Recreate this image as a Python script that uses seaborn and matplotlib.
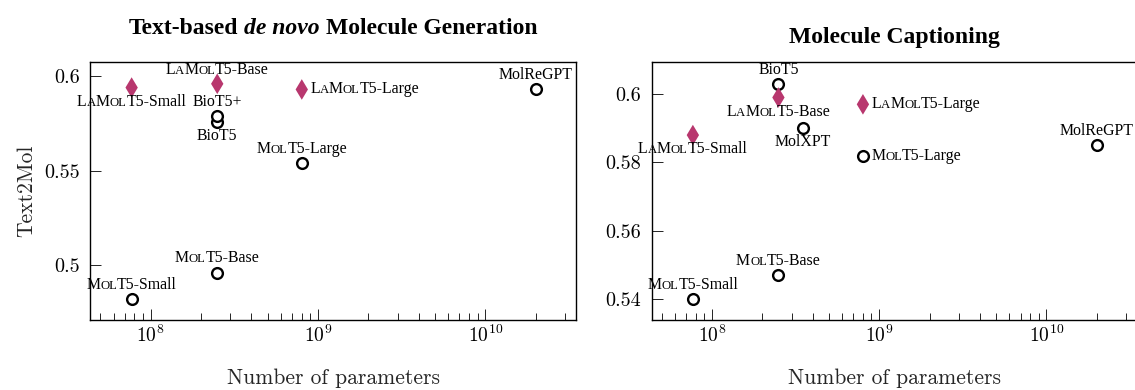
# Text2Mol score vs model size, two tasks side by side
# library used: seaborn (scatter) + matplotlib offsetbox for small caps labels

import numpy as np
import pandas as pd
import matplotlib
matplotlib.use("Agg")
import matplotlib.pyplot as plt
import seaborn as sns
from matplotlib.offsetbox import TextArea, HPacker, AnnotationBbox
from matplotlib.ticker import FixedLocator, FuncFormatter

# ---- data: text-based de novo molecule generation ----
gen_base_names = ["MolT5-Small", "MolT5-Base", "MolT5-Large", "BioT5", "BioT5+", "MolReGPT"]
gen_base_params = [77e6, 250e6, 800e6, 250e6, 250e6, 20e9]
gen_base_score = [0.482, 0.496, 0.554, 0.576, 0.579, 0.593]

gen_ours_names = ["LaMolT5-Small", "LaMolT5-Base", "LaMolT5-Large"]
gen_ours_params = [77e6, 250e6, 800e6]
gen_ours_score = [0.594, 0.596, 0.593]

# ---- data: molecule captioning ----
cap_base_names = ["MolT5-Small", "MolT5-Base", "MolT5-Large", "BioT5", "MolXPT", "MolReGPT"]
cap_base_params = [77e6, 250e6, 800e6, 250e6, 350e6, 20e9]
cap_base_score = [0.540, 0.547, 0.582, 0.603, 0.590, 0.585]

cap_ours_names = ["LaMolT5-Small", "LaMolT5-Base", "LaMolT5-Large"]
cap_ours_params = [77e6, 250e6, 800e6]
cap_ours_score = [0.588, 0.599, 0.597]

gen_yticks = [0.5, 0.55, 0.6]
cap_yticks = [0.54, 0.56, 0.58, 0.6]

# where each label sits relative to its marker
gen_where = {"MolT5-Small": "above", "MolT5-Base": "above", "MolT5-Large": "above",
             "BioT5": "below", "BioT5+": "above", "MolReGPT": "above",
             "LaMolT5-Small": "below", "LaMolT5-Base": "above", "LaMolT5-Large": "right"}
cap_where = {"MolT5-Small": "above", "MolT5-Base": "above", "MolT5-Large": "right",
             "BioT5": "above", "MolXPT": "below", "MolReGPT": "above",
             "LaMolT5-Small": "below", "LaMolT5-Base": "below", "LaMolT5-Large": "right"}

ours_color = "#B8376E"
serif = "Liberation Serif"

sns.set_theme(style="white")
plt.rcParams.update({
    "font.family": "cmr10",
    "mathtext.fontset": "cm",
    "axes.formatter.use_mathtext": True,
    "axes.edgecolor": "black",
    "axes.linewidth": 1.0,
    "xtick.direction": "in",
    "ytick.direction": "in",
    "xtick.bottom": True,
    "ytick.left": True,
    "xtick.color": "black",
    "ytick.color": "black",
    "xtick.labelsize": 14,
    "ytick.labelsize": 14.5,
    "axes.labelsize": 15.5,
})


def small_caps_parts(name):
    # "LaMolT5-Base" -> L A(small) M OL(small) T5-Base
    if "MolT5" not in name:
        return [(name, False)]
    i = name.index("T5")
    parts = []
    for ch in name[:i]:
        small = ch.islower()
        if parts and parts[-1][1] == small:
            parts[-1] = (parts[-1][0] + ch.upper(), small)
        else:
            parts.append((ch.upper(), small))
    parts.append((name[i:], False))
    return parts


def put_label(ax, x, y, name, where):
    areas = [TextArea(t, textprops=dict(fontsize=9.2 if sm else 11.4, family=serif, color="black"))
             for t, sm in small_caps_parts(name)]
    box = HPacker(children=areas, align="baseline", pad=0, sep=0)
    if where == "above":
        off, al = (0, 4.5), (0.5, 0)
    elif where == "below":
        off, al = (0, -4.5), (0.5, 1)
    else:
        off, al = (6, 0), (0, 0.5)
    ab = AnnotationBbox(box, (x, y), xybox=off, xycoords="data", boxcoords="offset points",
                        box_alignment=al, frameon=False, pad=0, annotation_clip=False)
    ax.add_artist(ab)


def put_title(fig, x, y, parts):
    areas = [TextArea(t, textprops=dict(fontsize=17, family=serif, weight="bold", style=st, color="black"))
             for t, st in parts]
    box = HPacker(children=areas, align="baseline", pad=0, sep=4.5)
    ab = AnnotationBbox(box, (x, y), xycoords="figure fraction", box_alignment=(0.5, 0.5),
                        frameon=False, pad=0, annotation_clip=False)
    fig.add_artist(ab)


fig = plt.figure(figsize=(11.35, 3.9), dpi=100)
ax1 = fig.add_axes([0.0797, 0.1795, 0.4278, 0.6608])
ax2 = fig.add_axes([0.5742, 0.1795, 0.4276, 0.6608])

panels = [
    (ax1, gen_base_names, gen_base_params, gen_base_score,
     gen_ours_names, gen_ours_params, gen_ours_score, gen_where, gen_yticks, (0.4709, 0.6074)),
    (ax2, cap_base_names, cap_base_params, cap_base_score,
     cap_ours_names, cap_ours_params, cap_ours_score, cap_where, cap_yticks, (0.5339, 0.6093)),
]

for ax, bn, bp, bs, on, op, os_, where, yt, ylim in panels:
    base = pd.DataFrame({"name": bn, "params": bp, "score": bs})
    ours = pd.DataFrame({"name": on, "params": op, "score": os_})
    sns.scatterplot(data=base, x="params", y="score", ax=ax, marker="o", s=60,
                    color="white", edgecolor="black", linewidth=1.7, zorder=3)
    sns.scatterplot(data=ours, x="params", y="score", ax=ax, marker="d", s=110,
                    color=ours_color, edgecolor="none", linewidth=0, zorder=3)
    for df in (base, ours):
        for _, r in df.iterrows():
            put_label(ax, r["params"], r["score"], r["name"], where[r["name"]])

    ax.set_xscale("log")
    ax.set_xlim(4.37e7, 3.48e10)
    ax.set_ylim(*ylim)
    ax.yaxis.set_major_locator(FixedLocator(yt))
    ax.yaxis.set_major_formatter(FuncFormatter(lambda v, p: "%g" % v))
    ax.tick_params(axis="x", which="major", length=8, width=0.6, pad=3)
    ax.tick_params(axis="x", which="minor", length=5, width=0.6)
    ax.tick_params(axis="y", which="major", length=8, width=0.6, pad=7.5)
    for s in ax.spines.values():
        s.set_visible(True)
        s.set_color("black")
    ax.set_xlabel("Number of parameters")
    ax.set_ylabel("")
    ax.xaxis.set_label_coords(0.5, -0.19)

ax1.set_ylabel("Text2Mol")
ax1.yaxis.set_label_coords(-0.112, 0.5)

put_title(fig, 0.2934, 0.928, [("Text-based", "normal"), ("de novo", "italic"), ("Molecule Generation", "normal")])
put_title(fig, 0.7877, 0.905, [("Molecule Captioning", "normal")])

plt.savefig("out.png", dpi=100)
